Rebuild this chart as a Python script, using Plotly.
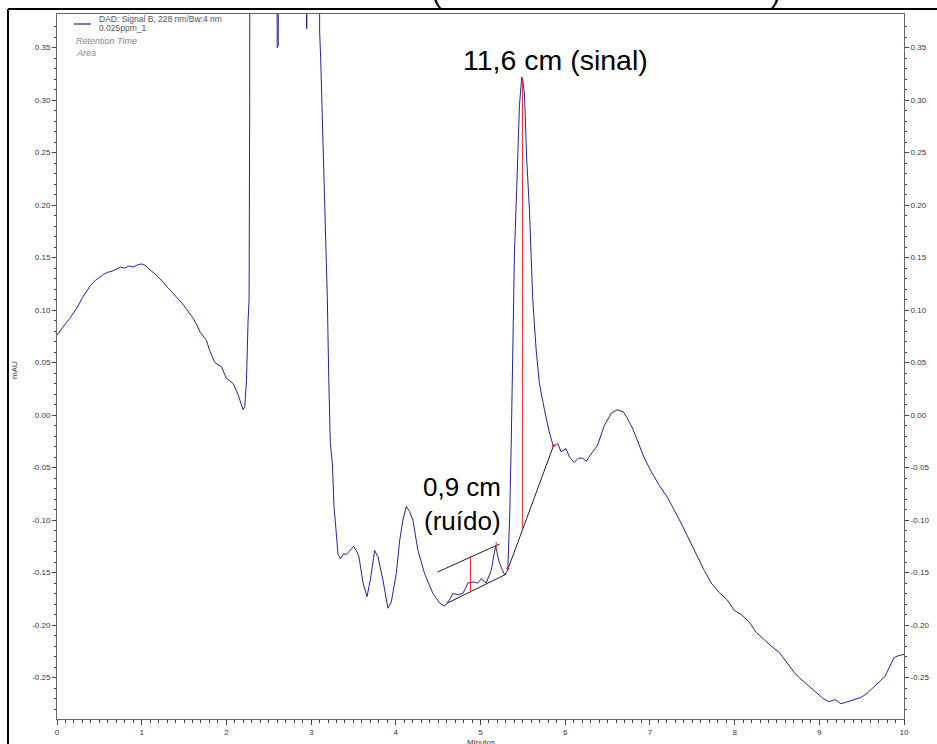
import plotly.graph_objects as go

# ---------------- data (minutes, mAU) ----------------
time_min = [
    0.00, 0.05, 0.10, 0.15, 0.20, 0.25, 0.30, 0.35, 0.40, 0.45, 0.50, 0.55, 0.60, 0.65, 0.70,
    0.75, 0.80, 0.85, 0.90, 0.95, 1.00, 1.05, 1.10, 1.15, 1.20, 1.25, 1.30, 1.35, 1.40, 1.45,
    1.50, 1.55, 1.60, 1.65, 1.69, 1.765, 1.80, 1.863, 1.942, 2.00, 2.08, 2.14, 2.18, 2.197,
    2.217, 2.237, 2.256, 2.268, 2.275, 2.28, 2.585, 2.592, 2.60, 2.612, 2.625, 2.94, 2.948,
    2.956, 3.095, 3.101, 3.113, 3.129, 3.14, 3.165, 3.192, 3.208, 3.227, 3.251, 3.270, 3.298,
    3.317, 3.345, 3.385, 3.416, 3.447, 3.502, 3.534, 3.565, 3.613, 3.660, 3.699, 3.750, 3.789,
    3.848, 3.907, 3.947, 4.006, 4.045, 4.084, 4.124, 4.163, 4.202, 4.261, 4.340, 4.438, 4.517,
    4.575, 4.634, 4.673, 4.732, 4.792, 4.851, 4.910, 4.969, 5.008, 5.067, 5.126, 5.177, 5.224,
    5.283, 5.322, 5.345, 5.362, 5.381, 5.401, 5.421, 5.440, 5.460, 5.487, 5.499, 5.519, 5.546,
    5.578, 5.598, 5.617, 5.657, 5.696, 5.755, 5.814, 5.861, 5.912, 5.951, 6.010, 6.050, 6.108,
    6.156, 6.203, 6.250, 6.297, 6.380, 6.462, 6.545, 6.616, 6.686, 6.733, 6.792, 6.875, 6.934,
    7.017, 7.111, 7.205, 7.288, 7.382, 7.465, 7.547, 7.642, 7.724, 7.818, 7.913, 7.995, 8.078,
    8.172, 8.255, 8.349, 8.432, 8.526, 8.608, 8.703, 8.762, 8.833, 8.903, 8.974, 9.045, 9.116,
    9.186, 9.257, 9.328, 9.410, 9.493, 9.564, 9.634, 9.705, 9.776, 9.823, 9.882, 9.941, 10.00,
]
signal_mau = [
    0.076, 0.082, 0.087, 0.092, 0.098, 0.104, 0.112, 0.118, 0.124, 0.128, 0.131, 0.134, 0.136, 0.137, 0.139,
    0.141, 0.140, 0.142, 0.141, 0.143, 0.144, 0.142, 0.138, 0.135, 0.131, 0.127, 0.122, 0.118, 0.113, 0.109,
    0.104, 0.099, 0.093, 0.086, 0.079, 0.071, 0.062, 0.050, 0.046, 0.035, 0.030, 0.019, 0.008, 0.005,
    0.008, 0.033, 0.090, 0.110, 0.300, 0.950, 0.950, 0.370, 0.350, 0.352, 0.950, 0.950, 0.368,
    0.950, 0.950, 0.365, 0.340, 0.292, 0.281, 0.200, 0.110, 0.036, -0.027, -0.046, -0.087, -0.113,
    -0.132, -0.137, -0.132, -0.133, -0.130, -0.125, -0.129, -0.135, -0.160, -0.173, -0.157, -0.129, -0.135,
    -0.157, -0.184, -0.178, -0.151, -0.120, -0.100, -0.087, -0.092, -0.100, -0.129, -0.151, -0.170, -0.179,
    -0.182, -0.176, -0.170, -0.171, -0.170, -0.160, -0.159, -0.160, -0.156, -0.160, -0.148, -0.125, -0.141,
    -0.152, -0.148, -0.095, -0.030, 0.050, 0.155, 0.200, 0.240, 0.295, 0.322, 0.319, 0.306, 0.243,
    0.195, 0.148, 0.110, 0.062, 0.030, 0.005, -0.017, -0.030, -0.027, -0.035, -0.032, -0.040, -0.045,
    -0.041, -0.041, -0.044, -0.038, -0.029, -0.010, 0.002, 0.005, 0.003, -0.003, -0.012, -0.029, -0.041,
    -0.054, -0.067, -0.078, -0.090, -0.105, -0.119, -0.133, -0.148, -0.160, -0.169, -0.176, -0.186, -0.190,
    -0.197, -0.207, -0.214, -0.220, -0.226, -0.235, -0.245, -0.250, -0.255, -0.260, -0.265, -0.270, -0.273,
    -0.271, -0.275, -0.273, -0.271, -0.269, -0.265, -0.260, -0.255, -0.249, -0.241, -0.231, -0.229, -0.228,
]

# measurement construction lines (minutes, mAU)
noise_upper_t = [4.493, 5.224]
noise_upper_y = [-0.1495, -0.1229]
noise_lower_t = [4.611, 5.307]
noise_lower_y = [-0.179, -0.1514]
noise_height_t = [4.882, 4.882]
noise_height_y = [-0.1345, -0.169]
noise_mark_t = [5.185, 5.185]
noise_mark_y = [-0.121, -0.128]
signal_base_t = [5.318, 5.861]
signal_base_y = [-0.148, -0.0295]
signal_height_t = [5.495, 5.495]
signal_height_y = [0.321, -0.109]
signal_dots_t = [5.322, 5.861]
signal_dots_y = [-0.146, -0.029]

x_tick_vals = [0, 1, 2, 3, 4, 5, 6, 7, 8, 9, 10]
x_tick_text = ["0", "1", "2", "3", "4", "5", "6", "7", "8", "9", "10"]
y_tick_vals = [-0.25, -0.20, -0.15, -0.10, -0.05, 0.00, 0.05, 0.10, 0.15, 0.20, 0.25, 0.30, 0.35]
y_tick_text = ["-0.25", "-0.20", "-0.15", "-0.10", "-0.05", "0.00", "0.05", "0.10",
               "0.15", "0.20", "0.25", "0.30", "0.35"]
y_minor_vals = [round(-0.28 + 0.01 * i, 2) for i in range(66)]
x_minor_vals = [round(0.1 * i, 1) for i in range(101)]

legend_lines = ["DAD: Signal B, 228 nm/Bw:4 nm", "0.025ppm_1"]
legend_extra = ["Retention Time", "Area"]

# ---------------- layout geometry ----------------
W, H = 937, 744
L, R, T, B = 57, 33, 14, 25
PW, PH = W - L - R, H - T - B


def px(x):
    return (x - L) / PW


def py(y):
    return (H - B - y) / PH


FONT = "Liberation Sans, Arial, sans-serif"
TRACE = "#23239b"
AXC = "#333333"
RED = "#e52b2b"

fig = go.Figure()
fig.add_trace(go.Scatter(x=time_min, y=signal_mau, mode="lines",
                         line=dict(color=TRACE, width=1), showlegend=False))
# invisible twin for the right axis
fig.add_trace(go.Scatter(x=time_min, y=signal_mau, mode="lines", yaxis="y2",
                         line=dict(color="rgba(0,0,0,0)", width=0), showlegend=False,
                         hoverinfo="skip"))

for tx, ty, col in [
    (noise_upper_t, noise_upper_y, "#222222"),
    (noise_lower_t, noise_lower_y, "#222222"),
    (signal_base_t, signal_base_y, "#222222"),
    (noise_height_t, noise_height_y, RED),
    (noise_mark_t, noise_mark_y, RED),
    (signal_height_t, signal_height_y, RED),
]:
    fig.add_trace(go.Scatter(x=tx, y=ty, mode="lines", line=dict(color=col, width=1),
                             showlegend=False))
fig.add_trace(go.Scatter(x=signal_dots_t, y=signal_dots_y, mode="markers",
                         marker=dict(color=RED, size=3), showlegend=False))

yr = [-0.2895, 0.382]
axis_common = dict(showgrid=False, zeroline=False, showline=True, linecolor="#666666",
                   linewidth=1, ticks="outside", tickcolor="#444444",
                   tickfont=dict(family=FONT, size=8, color=AXC))

fig.update_layout(
    width=W, height=H, margin=dict(l=L, r=R, t=T, b=B, pad=0, autoexpand=False),
    paper_bgcolor="white", plot_bgcolor="white",
    xaxis=dict(range=[0, 10], tickmode="array", tickvals=x_tick_vals, ticktext=x_tick_text,
               ticklen=5, mirror=True, automargin=False,
               minor=dict(tickmode="array", tickvals=x_minor_vals, ticks="outside", ticklen=3,
                          tickcolor="#444444"),
               **axis_common),
    yaxis=dict(range=yr, tickmode="array", tickvals=y_tick_vals, ticktext=y_tick_text,
               ticklen=4, side="left", automargin=False,
               minor=dict(tickmode="array", tickvals=y_minor_vals, ticks="outside", ticklen=2,
                          tickcolor="#444444"),
               **axis_common),
    yaxis2=dict(range=yr, overlaying="y", side="right", tickmode="array", automargin=False,
                tickvals=y_tick_vals, ticktext=y_tick_text, ticklen=4,
                minor=dict(tickmode="array", tickvals=y_minor_vals, ticks="outside", ticklen=2,
                           tickcolor="#444444"),
                **axis_common),
    showlegend=False,
)


def label(text, x, y, size, color, xanchor="center", yanchor="middle", angle=0):
    return dict(text=text, x=px(x), y=py(y), xref="paper", yref="paper", showarrow=False,
                xanchor=xanchor, yanchor=yanchor, textangle=angle,
                font=dict(family=FONT, size=size, color=color))


ann = [
    label("11,6 cm (sinal)", 555, 60, 28.5, "black"),
    label("0,9 cm", 462, 487, 26, "black"),
    label("(ruído)", 462, 521, 26, "black"),
    label(legend_lines[0], 97, 19, 8.5, "#555555", xanchor="left"),
    label(legend_lines[1], 97, 28, 8.5, "#555555", xanchor="left"),
    label("<i>" + legend_extra[0] + "</i>", 74, 41, 9, "#888888", xanchor="left"),
    label("<i>" + legend_extra[1] + "</i>", 74, 53, 9, "#888888", xanchor="left"),
    label("mAU", 14, 370, 8, AXC, angle=-90),
    label("Minutos", 481, 742, 8, AXC),
    label("(", 437, 10, 28, "black", yanchor="bottom"),
    label(")", 775, 10, 28, "black", yanchor="bottom"),
]
fig.update_layout(annotations=ann)

shapes = [
    # legend swatch
    dict(type="line", xref="paper", yref="paper", x0=px(74), x1=px(91), y0=py(24), y1=py(24),
         line=dict(color=TRACE, width=1.2)),
    # document border lines
    dict(type="line", xref="paper", yref="paper", x0=px(8), x1=px(937), y0=py(9), y1=py(9),
         line=dict(color="black", width=2)),
    dict(type="line", xref="paper", yref="paper", x0=px(8), x1=px(8), y0=py(9), y1=py(744),
         line=dict(color="black", width=2)),
]
fig.update_layout(shapes=shapes)

fig.write_html("out.html", config={"displayModeBar": False},
               post_script="document.body.style.margin='0px';document.body.style.overflow='hidden';")
